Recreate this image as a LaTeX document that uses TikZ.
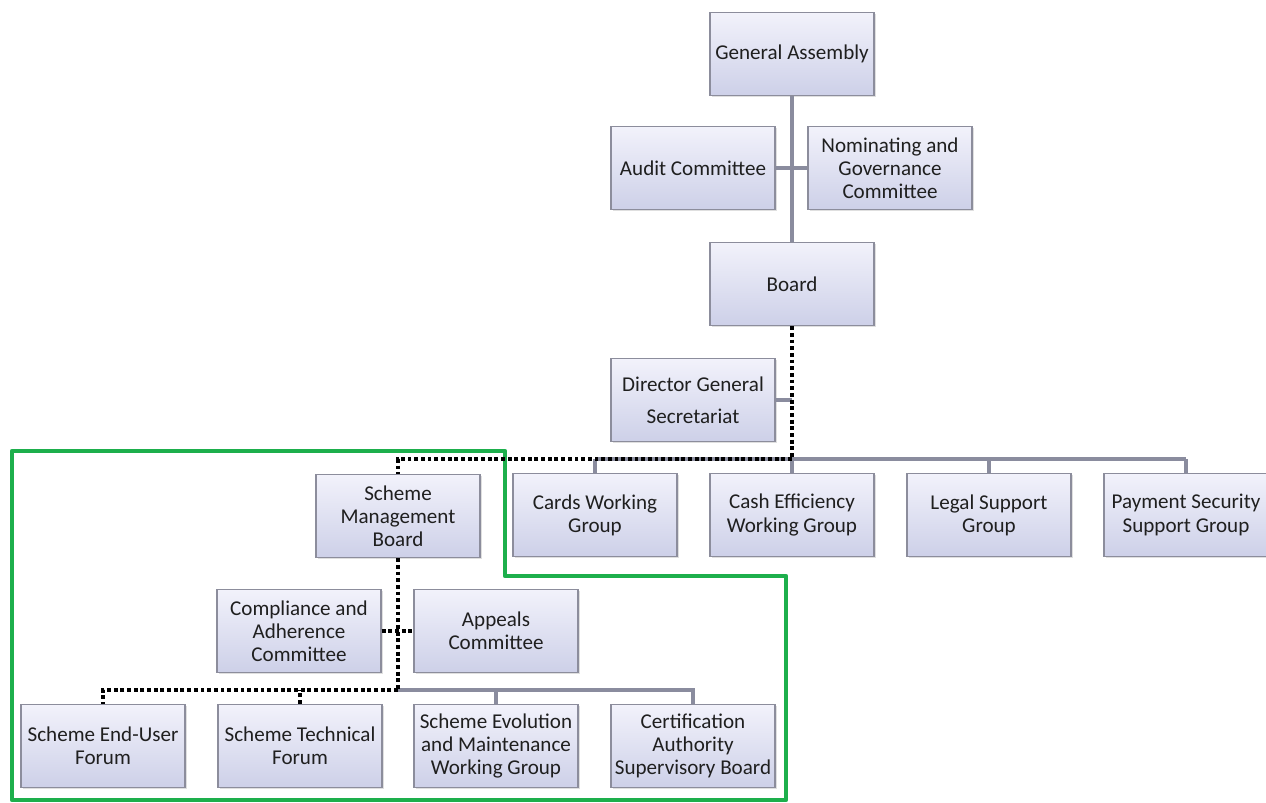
\documentclass[tikz,border=0pt]{standalone}
\usepackage{fontspec}
\setmainfont{Carlito}
\usepackage{xcolor}
\usetikzlibrary{positioning, calc, shadows}

\definecolor{boxtop}{HTML}{F2F2FB}
\definecolor{boxbot}{HTML}{CDD0E8}
\definecolor{boxline}{HTML}{8C8D9C}
\definecolor{linkgray}{HTML}{8A8C9E}
\definecolor{framegreen}{HTML}{1DAF4C}

\begin{document}
\begin{tikzpicture}[
    x=0.02cm, y=-0.02cm,
    box/.style={rectangle, draw=boxline, line width=0.8pt,
        top color=boxtop, bottom color=boxbot,
        minimum width=3.28cm, minimum height=1.66cm, inner sep=1pt,
        align=center, text=black!88, font=\fontsize{12}{13.2}\selectfont,
        drop shadow={opacity=0.25, shadow xshift=0.9pt, shadow yshift=-0.9pt}},
    solid link/.style={draw=linkgray, line width=2.3pt},
    dot link/.style={draw=black, line width=2.4pt, dash pattern=on 2.2pt off 1.6pt}
]
\useasboundingbox (0,0) rectangle (1266,803);

% Scope frame
\draw[framegreen, line width=2.4pt, line join=round]
    (12,451) -- (505,451) -- (505,576) -- (786,576) -- (786,800) -- (12,800) -- cycle;

% Top
\node[box] (ga) at (792,54) {General Assembly};
\node[box] (audit) at (693,168) {Audit Committee};
\node[box] (nom) at (890,168) {Nominating and\\Governance\\Committee};
\node[box] (board) at (792,284) {Board};
\node[box] (dg) at (693,400) {Director General\\[5pt]Secretariat};

% Working groups
\node[box] (smb) at (398,516) {Scheme\\Management\\Board};
\node[box] (cards) at (595,515) {Cards Working\\Group};
\node[box] (cash) at (792,515) {Cash Efficiency\\Working Group};
\node[box] (legal) at (989,515) {Legal Support\\Group};
\node[box] (pay) at (1186,515) {Payment Security\\Support Group};

% Scheme bodies
\node[box] (comp) at (299,631) {Compliance and\\Adherence\\Committee};
\node[box] (appeals) at (496,631) {Appeals\\Committee};
\node[box] (enduser) at (103,746) {Scheme End-User\\Forum};
\node[box] (tech) at (300,746) {Scheme Technical\\Forum};
\node[box] (evol) at (496,746) {Scheme Evolution\\and Maintenance\\Working Group};
\node[box] (cert) at (693,746) {Certification\\Authority\\Supervisory Board};

\coordinate (hub) at (792,459);
\coordinate (subhub) at (398,690);

% Solid lines
\draw[solid link] (ga.south) -- (board.north);
\draw[solid link] (audit.east) -- (audit.east -| nom.west);
\draw[solid link] (dg.east) -- (dg.east -| hub);
\draw[solid link] (cards.north |- hub) -- (pay.north |- hub);
\foreach \n in {cards, cash, legal, pay}
    \draw[solid link] (\n.north) -- (\n.north |- hub);
\draw[solid link] (subhub) -| (cert.north);
\draw[solid link] (evol.north) -- (evol.north |- subhub);

% Dotted lines
\draw[dot link] (board.south) -- (hub);
\draw[dot link] (hub) -| (smb.north);
\draw[dot link] (smb.south) -- (subhub);
\draw[dot link] (comp.east) -- (appeals.west);
\draw[dot link] (subhub) -| (enduser.north);
\draw[dot link] (tech.north) -- (tech.north |- subhub);
\end{tikzpicture}
\end{document}
